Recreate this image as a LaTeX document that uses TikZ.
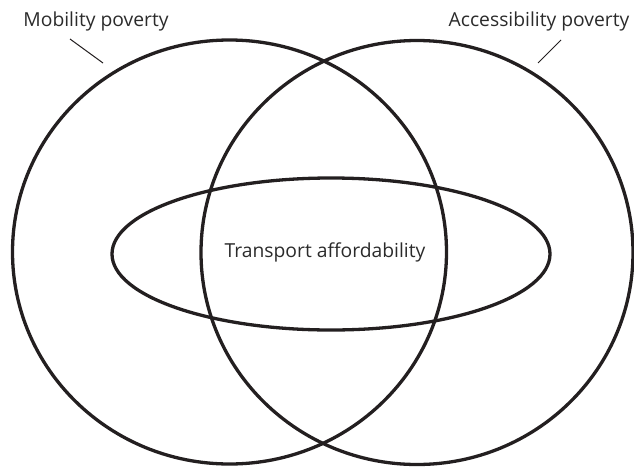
\documentclass[tikz,border=0pt]{standalone}
\usepackage{fontspec}
\setmainfont{Open Sans}
\usetikzlibrary{shapes.geometric}
\definecolor{ink}{HTML}{231F20}
\definecolor{txt}{HTML}{2B2B2B}
\tikzset{
  ring/.style={draw=ink, line width=3.3pt, fill=none},
  lbl/.style={text=txt, font=\fontsize{19.3}{22}\selectfont, inner sep=0pt},
  leader/.style={draw=ink, line width=1pt}
}
\begin{document}
\begin{tikzpicture}[x=1pt,y=-1pt]
\useasboundingbox (0,0) rectangle (634,466);
\draw[ring] (229.5,252) ellipse [x radius=217, y radius=212];
\draw[ring] (417,252.5) ellipse [x radius=216, y radius=212];
\draw[ring] (331,254) ellipse [x radius=219, y radius=76];
\node[lbl] (mob) at (96,21) {Mobility poverty};
\node[lbl] (acc) at (539,21) {Accessibility poverty};
\node[lbl] (tra) at (325,252) {Transport affordability};
\coordinate (m1) at (70,39);
\coordinate (m2) at (103,63);
\coordinate (a1) at (561,40);
\coordinate (a2) at (538,63);
\draw[leader] (m1) -- (m2);
\draw[leader] (a1) -- (a2);
\end{tikzpicture}
\end{document}
